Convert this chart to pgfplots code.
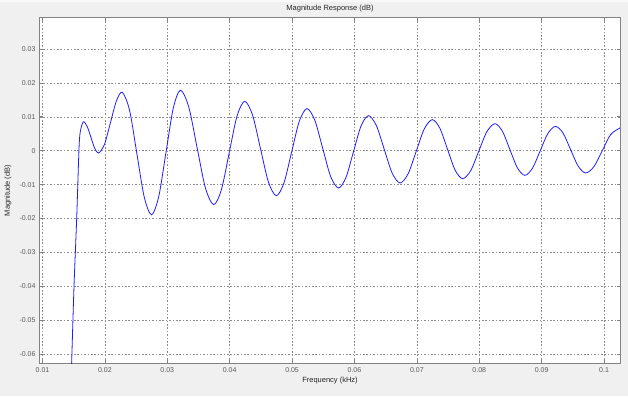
\documentclass[border=0pt]{standalone}
\usepackage{pgfplots}
\pgfplotsset{compat=1.18}
\usepackage{fontspec}
\setmainfont{Liberation Sans}
\definecolor{figbg}{RGB}{240,240,240}
\definecolor{framec}{RGB}{130,130,130}
\definecolor{gridc}{RGB}{140,140,140}
\definecolor{tickc}{RGB}{90,90,90}
\definecolor{curve}{RGB}{30,30,255}
\begin{document}
\begin{tikzpicture}[x=1pt,y=1pt]
\fill[figbg] (-40,-33) rectangle (588,363);
\fill[white!60!figbg] (-40,361) rectangle (588,363);
\begin{axis}[
  at={(0,0)}, anchor=south west,
  scale only axis, width=580pt, height=345pt,
  xmin=0.0096, xmax=0.10256,
  ymin=-0.06257, ymax=0.0391,
  xtick={0.01,0.02,0.03,0.04,0.05,0.06,0.07,0.08,0.09,0.1},
  ytick={-0.06,-0.05,-0.04,-0.03,-0.02,-0.01,0,0.01,0.02,0.03},
  scaled ticks=false,
  /pgf/number format/fixed, /pgf/number format/precision=2,
  /pgf/number format/assume math mode=true,
  tick label style={font=\fontsize{7}{8}\selectfont, text=tickc},
  x tick label style={yshift=-1pt},
  y tick label style={xshift=-1pt},
  tick align=inside, major tick length=3pt,
  every tick/.style={framec, line width=0.6pt},
  grid=major,
  major grid style={gridc, line width=0.45pt, dash pattern=on 1.6pt off 1.8pt},
  axis line style={framec, line width=1pt},
  axis background/.style={fill=white},
  xlabel={Frequency (kHz)},
  xlabel style={at={(axis description cs:0.5,-0.0522)}, anchor=center, font=\fontsize{7.5}{9}\selectfont, text=black!85},
  ylabel={Magnitude (dB)},
  ylabel style={at={(axis description cs:-0.0552,0.5)}, rotate=0, anchor=center, font=\fontsize{7.5}{9}\selectfont, text=black!85},
]
\addplot[curve, line width=0.8pt, smooth, tension=0.5] coordinates {
(0.01445,-0.075) (0.01467,-0.0626) (0.01505,-0.040) (0.01548,-0.020)
(0.01584,0.0) (0.01605,0.0055) (0.01654,0.0085)
(0.017155,0.00715) (0.01777,0.0039) (0.018385,0.00065) (0.0190,-0.0007)
(0.019945,0.00192) (0.02089,0.00825) (0.021835,0.01458) (0.02278,0.0172)
(0.023953,0.01191) (0.025125,-0.00085) (0.026298,-0.01361) (0.02747,-0.0189)
(0.02863,-0.01353) (0.02979,-0.00055) (0.03095,0.01243) (0.03211,0.0178)
(0.033443,0.01286) (0.034775,0.00095) (0.036108,-0.01096) (0.03744,-0.0159)
(0.03868,-0.01144) (0.03992,-0.000675) (0.04116,0.01009) (0.0424,0.01455)
(0.043668,0.01048) (0.044935,0.00064) (0.046203,-0.0092) (0.04747,-0.01327)
(0.048698,-0.00951) (0.049925,-0.000435) (0.051153,0.00864) (0.05238,0.0124)
(0.053645,0.00897) (0.05491,0.0007) (0.056175,-0.00757) (0.05744,-0.0110)
(0.05864,-0.00788) (0.05984,-0.00034) (0.06104,0.0072) (0.06224,0.01032)
(0.063508,0.00741) (0.064775,0.0004) (0.066043,-0.00662) (0.06731,-0.00953)
(0.068603,-0.0068) (0.069895,-0.0002) (0.071188,0.00641) (0.07248,0.00914)
(0.073695,0.00659) (0.07491,0.00044) (0.076125,-0.00571) (0.07734,-0.00826)
(0.078633,-0.00589) (0.079925,-0.00015) (0.081218,0.00559) (0.08251,0.00796)
(0.08371,0.00573) (0.08491,0.00034) (0.08611,-0.00505) (0.08731,-0.00728)
(0.088538,-0.00516) (0.089765,-0.00006) (0.090993,0.00505) (0.09222,0.00717)
(0.093433,0.00516) (0.094645,0.0003) (0.095858,-0.00457) (0.09707,-0.00658)
(0.098403,-0.00464) (0.099735,0.00006) (0.101068,0.00476) (0.10256,0.0067)
};
\end{axis}
\node[font=\fontsize{7.5}{9}\selectfont, text=black!85, anchor=center] at (290,354) {Magnitude Response (dB)};
\pgfresetboundingbox
\path[use as bounding box] (-40,-33) rectangle (588,363);
\end{tikzpicture}
\end{document}
